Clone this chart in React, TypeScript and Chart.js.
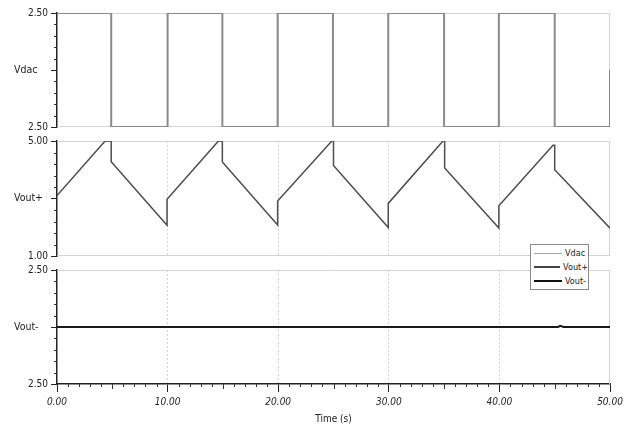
import React, { useEffect, useRef } from 'react';
import { Chart, registerables } from 'chart.js';

Chart.register(...registerables);

// ---------- data ----------
const timeMin = 0;
const timeMax = 50;
const xTickValues = [0, 10, 20, 30, 40, 50];
const xTickLabels = ['0.00', '10.00', '20.00', '30.00', '40.00', '50.00'];
const xAxisTitle = 'Time (s)';

const vdacTime = [0, 4.9, 4.9, 10, 10, 14.95, 14.95, 19.95, 19.95, 24.95, 24.95, 29.95, 29.95, 35, 35, 39.95, 39.95, 45, 45, 50, 50];
const vdacValues = [2.5, 2.5, -2.5, -2.5, 2.5, 2.5, -2.5, -2.5, 2.5, 2.5, -2.5, -2.5, 2.5, 2.5, -2.5, -2.5, 2.5, 2.5, -2.5, -2.5, 0];
const vdacRange = [-2.5, 2.5];
const vdacTickLabels = ['2.50', '', '2.50'];

const voutPTime = [0, 4.35, 4.9, 4.9, 9.95, 9.95, 14.6, 14.95, 14.95, 19.95, 19.95, 24.85, 25.0, 25.0, 29.95, 29.95, 34.9, 35.05, 35.05, 39.95, 39.95, 44.85, 45.0, 45.0, 50];
const voutPValues = [3.1, 5.0, 5.0, 4.28, 2.07, 2.97, 5.0, 5.0, 4.27, 2.08, 2.91, 5.0, 5.0, 4.15, 1.99, 2.83, 5.0, 5.0, 4.06, 1.97, 2.75, 4.85, 4.85, 4.0, 1.97];
const voutPRange = [1, 5];
const voutPTickLabels = ['1.00', '', '5.00'];

const voutMTime = [0, 45.3, 45.5, 45.8, 50];
const voutMValues = [0, 0, 0.05, 0, 0];
const voutMRange = [-2.5, 2.5];
const voutMTickLabels = ['2.50', '', '2.50'];

const seriesNames = ['Vdac', 'Vout+', 'Vout-'];
const seriesColors = ['#8a8a8a', '#4d4d4d', '#1a1a1a'];
const legendColors = ['#a0a0a0', '#444444', '#111111'];

// ---------- styling ----------
const FONT = "'Liberation Sans Narrow', 'DejaVu Sans Condensed', 'Liberation Sans', Arial, sans-serif";
const PLOT_LEFT = 57;
const PLOT_RIGHT_PAD = 21;

type PanelDef = {
  name: string;
  time: number[];
  values: number[];
  range: number[];
  tickLabels: string[];
  color: string;
  width: number;
  top: number;
  height: number;
  padTop: number;
  padBottom: number;
  xAxis: boolean;
};

const panels: PanelDef[] = [
  { name: seriesNames[0], time: vdacTime, values: vdacValues, range: vdacRange, tickLabels: vdacTickLabels, color: seriesColors[0], width: 2, top: 0, height: 136, padTop: 13, padBottom: 8, xAxis: false },
  { name: seriesNames[1], time: voutPTime, values: voutPValues, range: voutPRange, tickLabels: voutPTickLabels, color: seriesColors[1], width: 1.5, top: 128, height: 137, padTop: 13, padBottom: 8, xAxis: false },
  { name: seriesNames[2], time: voutMTime, values: voutMValues, range: voutMRange, tickLabels: voutMTickLabels, color: seriesColors[2], width: 2, top: 255, height: 173, padTop: 15, padBottom: 0, xAxis: true },
];

const framePlugin = {
  id: 'frame',
  beforeDatasetsDraw(chart: any, _a: any, opts: any) {
    const { ctx, chartArea } = chart;
    const { left, right, top, bottom } = chartArea;
    ctx.save();
    ctx.strokeStyle = '#d2d2d2';
    ctx.lineWidth = 1;
    ctx.beginPath();
    ctx.moveTo(left, top + 0.5);
    ctx.lineTo(right, top + 0.5);
    ctx.moveTo(right - 0.5, top);
    ctx.lineTo(right - 0.5, bottom);
    if (!opts.xAxis) {
      ctx.moveTo(left, bottom - 0.5);
      ctx.lineTo(right, bottom - 0.5);
    }
    ctx.stroke();
    ctx.restore();
  },
  afterDraw(chart: any, _a: any, opts: any) {
    const { ctx, chartArea, scales } = chart;
    const y = scales.y;
    ctx.save();
    ctx.strokeStyle = '#333';
    ctx.lineWidth = 1;
    ctx.beginPath();
    const [mn, mx] = opts.range;
    for (let i = 1; i < 10; i++) {
      if (i === 5) continue;
      const py = Math.round(y.getPixelForValue(mn + ((mx - mn) * i) / 10)) + 0.5;
      ctx.moveTo(chartArea.left - 3, py);
      ctx.lineTo(chartArea.left, py);
    }
    if (opts.xAxis) {
      const x = scales.x;
      for (let t = timeMin + 1; t < timeMax; t++) {
        if (t % 10 === 0) continue;
        const px = Math.round(x.getPixelForValue(t)) + 0.5;
        const len = t % 5 === 0 ? 5 : 3;
        ctx.moveTo(px, chartArea.bottom);
        ctx.lineTo(px, chartArea.bottom + len);
      }
    }
    ctx.stroke();
    // panel name
    ctx.fillStyle = '#222';
    ctx.font = `10.5px ${FONT}`;
    ctx.textBaseline = 'middle';
    ctx.textAlign = 'left';
    ctx.fillText(opts.name, 14, (chartArea.top + chartArea.bottom) / 2);
    ctx.restore();
  },
};

function Panel({ def }: { def: PanelDef }) {
  const ref = useRef<HTMLCanvasElement | null>(null);
  useEffect(() => {
    if (!ref.current) return;
    const [mn, mx] = def.range;
    const chart = new Chart(ref.current, {
      type: 'line',
      data: {
        datasets: [
          {
            label: def.name,
            data: def.time.map((t, i) => ({ x: t, y: def.values[i] })),
            borderColor: def.color,
            borderWidth: def.width,
            pointRadius: 0,
            tension: 0,
            fill: false,
          },
        ],
      },
      options: {
        animation: false,
        responsive: true,
        maintainAspectRatio: false,
        layout: { padding: { left: 0, right: PLOT_RIGHT_PAD, top: def.padTop, bottom: def.padBottom } },
        plugins: {
          legend: { display: false },
          tooltip: { enabled: false },
          frame: { range: def.range, xAxis: def.xAxis, name: def.name },
        } as any,
        scales: {
          x: {
            type: 'linear',
            min: timeMin,
            max: timeMax,
            afterBuildTicks: (s: any) => {
              s.ticks = xTickValues.map((v) => ({ value: v }));
            },
            afterFit: (s: any) => {
              if (def.xAxis) s.height = 44;
            },
            ticks: {
              display: def.xAxis,
              autoSkip: false,
              maxRotation: 0,
              padding: 4,
              color: '#222',
              font: { size: 10, style: 'italic', family: FONT },
              callback: (_v: any, i: number) => xTickLabels[i],
            },
            grid: {
              color: (c: any) => (c.tick && c.tick.value > timeMin && c.tick.value < timeMax ? '#d6d6d6' : 'rgba(0,0,0,0)'),
              lineWidth: 1,
              drawTicks: def.xAxis,
              tickLength: 8,
              tickColor: '#222',
              tickWidth: 1,
            },
            border: { display: def.xAxis, color: '#222', width: 1.5, dash: [2, 2] },
            title: {
              display: def.xAxis,
              text: xAxisTitle,
              color: '#222',
              font: { size: 10, family: FONT },
              padding: { top: 0, bottom: 3 },
            },
          },
          y: {
            type: 'linear',
            min: mn,
            max: mx,
            afterFit: (s: any) => {
              s.width = PLOT_LEFT;
            },
            afterBuildTicks: (s: any) => {
              s.ticks = [mn, (mn + mx) / 2, mx].map((v) => ({ value: v }));
            },
            ticks: {
              autoSkip: false,
              padding: 3,
              color: '#222',
              font: { size: 10, family: FONT },
              callback: (_v: any, i: number) => def.tickLabels[i],
            },
            grid: { drawOnChartArea: false, drawTicks: true, tickLength: 6, tickColor: '#222', tickWidth: 1 },
            border: { display: true, color: '#222', width: 1.5 },
          },
        },
      } as any,
      plugins: [framePlugin],
    });
    return () => chart.destroy();
  }, [def]);
  return (
    <div style={{ position: 'absolute', left: 0, top: def.top, width: 631, height: def.height }}>
      <canvas ref={ref} />
    </div>
  );
}

function Legend() {
  return (
    <div
      style={{
        position: 'absolute',
        left: 530,
        top: 244,
        width: 59,
        height: 46,
        background: '#fff',
        border: '1px solid #8a8a8a',
        fontFamily: FONT,
        fontSize: 9,
        color: '#222',
        boxSizing: 'border-box',
        paddingTop: 1,
      }}
    >
      {seriesNames.map((n, i) => (
        <div key={n} style={{ display: 'flex', alignItems: 'center', height: 14 }}>
          <div style={{ marginLeft: 3, width: 28, height: 0, borderTop: `${i === 0 ? 1.5 : 2}px solid ${legendColors[i]}` }} />
          <span style={{ marginLeft: 3, lineHeight: '14px' }}>{n}</span>
        </div>
      ))}
    </div>
  );
}

export default function App() {
  return (
    <div style={{ position: 'absolute', left: 0, top: 0, width: 631, height: 428, background: '#fff', overflow: 'hidden' }}>
      {panels.map((p) => (
        <Panel key={p.name} def={p} />
      ))}
      <Legend />
    </div>
  );
}
